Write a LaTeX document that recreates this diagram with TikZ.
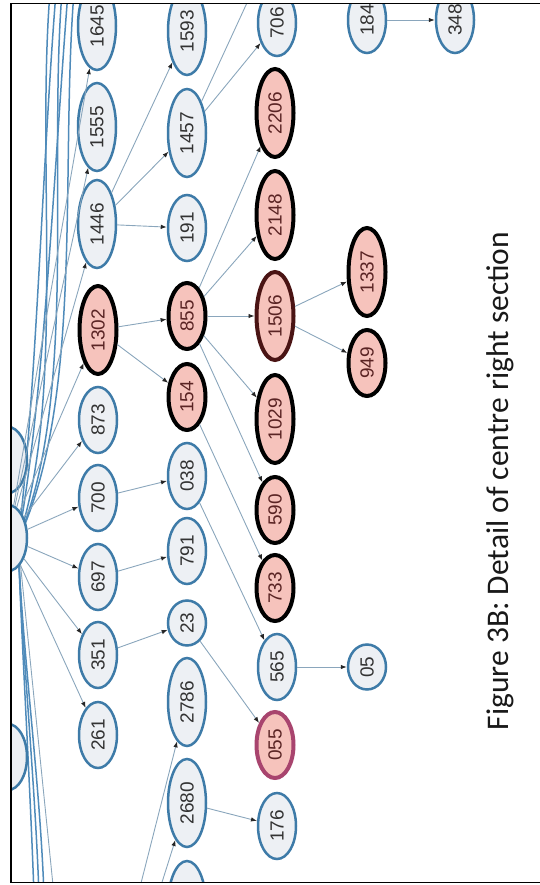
\documentclass[tikz,border=0pt]{standalone}
\usepackage{fontspec}
\setmainfont{Liberation Sans}
\newfontfamily\captionfont{Carlito}
\usepackage{tikz}
\usetikzlibrary{shapes.geometric}
\usetikzlibrary{arrows.meta}

\definecolor{nodefill}{HTML}{EDF0F4}
\definecolor{nodeblue}{HTML}{3E7BA8}
\definecolor{hitfill}{HTML}{F6C3BC}
\definecolor{hitdeep}{HTML}{4A1414}
\definecolor{hitrose}{HTML}{A8446E}
\definecolor{hittext}{HTML}{5A2424}
\definecolor{edgegray}{HTML}{8AA6BC}
\definecolor{bundleblue}{HTML}{4F8BBA}

\begin{document}
\begin{tikzpicture}[x=1pt,y=-1pt,
  usualnode/.style={ellipse, rotate=90, draw=nodeblue, line width=2.5pt, fill=nodefill,
    inner sep=0pt, minimum height=38pt, text=black!80, font=\fontsize{19}{19}\selectfont},
  hitnode/.style={usualnode, draw=black, line width=4pt, minimum height=37pt, fill=hitfill, text=hittext},
  d4/.style={minimum width=88pt},
  d3/.style={minimum width=66pt},
  d2/.style={minimum width=45pt},
  link/.style={draw=edgegray, line width=0.9pt, -{Latex[length=6pt,width=4.5pt,color=black!85]}},
  bundle/.style={draw=bundleblue, line width=1.5pt}]
  \useasboundingbox (0,0) rectangle (539,885);
  \begin{scope}
    \clip (11,3.5) rectangle (539,882.5);
    % bundle of edges running along the left border
    \coordinate (hubpt) at (18,540);
    \foreach \i/\x/\c in {1/50/66, 2/56/36, 3/62/78, 4/68/44, 5/74/84}{
      \coordinate (top\i) at (\x,-8);
      \draw[bundle] (hubpt) .. controls (\c,400) and (\x-14,170) .. (top\i);
    }
    \foreach \i/\x in {1/34, 2/39, 3/44}{
      \coordinate (bot\i) at (\x,895);
      \draw[bundle] (hubpt) .. controls (22,650) and (\x-4,780) .. (bot\i);
    }
    \coordinate (bot5) at (54,895);
    \draw[edgegray, line width=0.9pt] (hubpt) -- (bot5);

    % left border nodes
    \node[usualnode,d3] (leftA) at (8,460) {};
    \node[usualnode,d3] (hub) at (8,538) {};
    \node[usualnode,d3] (leftC) at (8,757) {};
    % first column
    \node[usualnode,d4] (n1645) at (97,26) {1645};
    \node[usualnode,d4] (n1555) at (97,127) {1555};
    \node[usualnode,d4] (n1446) at (97,224) {1446};
    \node[hitnode,d4] (n1302) at (98,330) {1302};
    \node[usualnode,d3] (n873) at (98,420) {873};
    \node[usualnode,d3] (n700) at (98,498) {700};
    \node[usualnode,d3] (n697) at (98,577) {697};
    \node[usualnode,d3] (n351) at (98,655) {351};
    \node[usualnode,d3] (n261) at (98,735) {261};
    % second column
    \node[usualnode,d4] (n1593) at (187,31) {1593};
    \node[usualnode,d4] (n1457) at (187,133) {1457};
    \node[usualnode,d3] (n191) at (187,228) {191};
    \node[hitnode,d3] (n855) at (187,316) {855};
    \node[hitnode,d3] (n154) at (187,397) {154};
    \node[usualnode,d3] (n038) at (187,476) {038};
    \node[usualnode,d3] (n791) at (187,551) {791};
    \node[usualnode,d2] (n23) at (187,623) {23};
    \node[usualnode,d4] (n2786) at (187,702) {2786};
    \node[usualnode,d4] (n2680) at (187,803) {2680};
    \node[usualnode,d4] (lowB) at (187,905) {};
    % third column
    \node[usualnode,d3] (n706) at (277,23) {706};
    \node[hitnode,d4] (n2206) at (275,113) {2206};
    \node[hitnode,d4] (n2148) at (275,215) {2148};
    \node[hitnode,d4,draw=hitdeep] (n1506) at (275,316) {1506};
    \node[hitnode,d4] (n1029) at (275,419) {1029};
    \node[hitnode,d3] (n590) at (275,510) {590};
    \node[hitnode,d3] (n733) at (275,588) {733};
    \node[usualnode,d3] (n565) at (277,667) {565};
    \node[hitnode,d3,draw=hitrose] (n055) at (275,745) {055};
    \node[usualnode,d3] (n176) at (277,826) {176};
    % fourth and fifth column
    \node[usualnode,d3] (n184) at (367,20) {184};
    \node[hitnode,d4] (n1337) at (367,272) {1337};
    \node[hitnode,d3] (n949) at (367,363) {949};
    \node[usualnode,d2] (n05) at (367,667) {05};
    \node[usualnode,d3] (n348) at (455,20) {348};

    % connectors
    \foreach \t in {n1645,n1555,n1446,n1302,n873,n700,n697,n351,n261}
      \draw[link] (hub) -- (\t);
    \draw[link] (n1446) -- (n1593);
    \draw[link] (n1446) -- (n1457);
    \draw[link] (n1446) -- (n191);
    \draw[link] (n1457) -- (n706);
    \coordinate (offtop) at (252,-8);
    \draw[edgegray, line width=0.9pt] (n1457) -- (offtop);
    \draw[link] (n1302) -- (n855);
    \draw[link] (n1302) -- (n154);
    \foreach \t in {n2206,n2148,n1506,n1029,n590}
      \draw[link] (n855) -- (\t);
    \draw[link] (n154) -- (n733);
    \draw[link] (n700) -- (n038);
    \draw[link] (n697) -- (n791);
    \draw[link] (n351) -- (n23);
    \draw[link] (n038) -- (n565);
    \draw[link] (n23) -- (n055);
    \draw[link] (n565) -- (n05);
    \draw[link] (n2680) -- (n176);
    \draw[link] (n1506) -- (n1337);
    \draw[link] (n1506) -- (n949);
    \draw[link] (n184) -- (n348);
    \coordinate (below1) at (138,895);
    \coordinate (below2) at (158,895);
    \draw[link] (below1) -- (n2786);
    \draw[link] (below2) -- (n2680);
  \end{scope}
  % frame and caption
  \draw[line width=1.8pt] (545,3.5) -- (11,3.5) -- (11,882.5) -- (545,882.5);
  \node[font=\captionfont\fontsize{31.5}{31.5}\selectfont, text=black!90, rotate=90, anchor=base]
    (caption) at (508,481) {Figure 3B: Detail of centre right section};
\end{tikzpicture}
\end{document}
